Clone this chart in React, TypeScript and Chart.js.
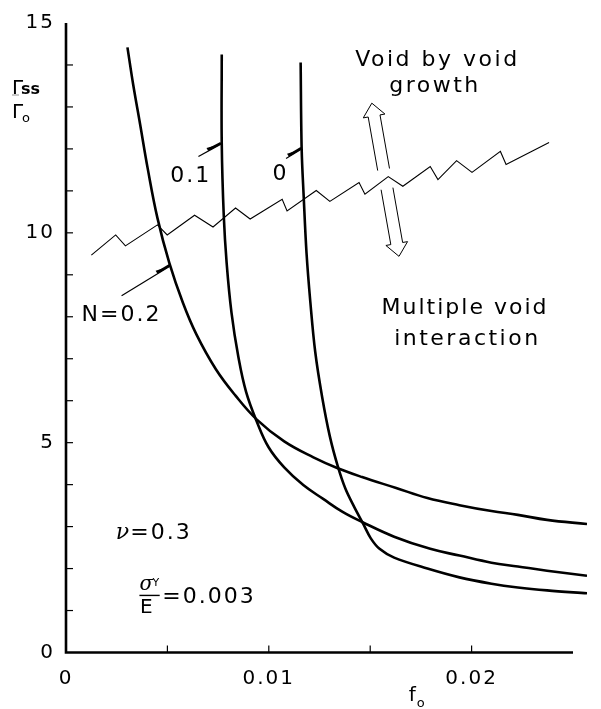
import React, { useEffect, useRef } from "react";
import { Chart, registerables } from "chart.js";
Chart.register(...registerables);

// ---- tick labels ----
const xTickValues = [0, 0.01, 0.02];
const xTickLabels = ["0", "0.01", "0.02"];
const yTickValues = [0, 5, 10, 15];
const yTickLabels = ["0", "5", "10", "15"];

// ---- curve N = 0.2 ----
const fN02 = [0.00303, 0.00331, 0.00365, 0.00403, 0.00451, 0.00509, 0.00576, 0.00643, 0.00739, 0.00836, 0.00941, 0.01076, 0.0122, 0.0134, 0.0146, 0.01628, 0.01782, 0.0194, 0.02098, 0.02228, 0.02372, 0.02569];
const gN02 = [14.42, 13.54, 12.6, 11.53, 10.35, 9.29, 8.34, 7.58, 6.75, 6.12, 5.55, 5.03, 4.65, 4.39, 4.18, 3.92, 3.68, 3.51, 3.37, 3.28, 3.16, 3.06];

// ---- curve N = 0.1 ----
const fN01 = [0.00768, 0.00768, 0.00778, 0.00792, 0.00816, 0.0085, 0.00888, 0.00941, 0.00999, 0.01076, 0.0117, 0.01268, 0.01364, 0.0146, 0.01618, 0.01796, 0.0194, 0.02098, 0.02228, 0.02372, 0.02569];
const gN01 = [14.25, 12.12, 10.4, 9.29, 8.1, 7.04, 6.21, 5.5, 4.89, 4.41, 3.99, 3.66, 3.35, 3.11, 2.76, 2.47, 2.31, 2.14, 2.05, 1.95, 1.83];

// ---- curve N = 0 ----
const fN0 = [0.01157, 0.01162, 0.01172, 0.01186, 0.01205, 0.01229, 0.01263, 0.01301, 0.0134, 0.01378, 0.01421, 0.01465, 0.01503, 0.01546, 0.01618, 0.01782, 0.0194, 0.02098, 0.02228, 0.02372, 0.02569];
const gN0 = [14.06, 12.0, 10.87, 9.52, 8.34, 7.16, 6.09, 5.15, 4.44, 3.9, 3.47, 3.07, 2.72, 2.47, 2.26, 2.0, 1.79, 1.64, 1.55, 1.48, 1.41];

// ---- transition (zig-zag) line ----
const fZig = [0.00125, 0.00245, 0.00293, 0.00451, 0.00499, 0.00634, 0.00725, 0.00836, 0.00908, 0.01066, 0.0109, 0.01234, 0.01301, 0.01445, 0.01474, 0.01589, 0.01661, 0.01796, 0.01834, 0.01926, 0.02002, 0.02142, 0.0217, 0.02382];
const gZig = [9.47, 9.95, 9.69, 10.19, 9.95, 10.42, 10.14, 10.59, 10.33, 10.8, 10.52, 11.01, 10.75, 11.2, 10.92, 11.34, 11.11, 11.58, 11.27, 11.72, 11.44, 11.94, 11.63, 12.15];

const toPts = (xs: number[], ys: number[]) => xs.map((v, i) => ({ x: v, y: ys[i] }));

const FONT = "DejaVu Sans";

const annotPlugin = {
  id: "annot",
  beforeDraw(chart: any) {
    chart.ctx.letterSpacing = "2px";
  },
  afterDraw(chart: any) {
    const ctx: CanvasRenderingContext2D = chart.ctx;
    const xs = chart.scales.x;
    const ys = chart.scales.y;
    const px = (f: number) => xs.getPixelForValue(f);
    const py = (g: number) => ys.getPixelForValue(g);
    const area = chart.chartArea;
    ctx.save();
    ctx.strokeStyle = "#000";
    ctx.fillStyle = "#000";
    ctx.lineCap = "butt";
    const seg = (x1: number, y1: number, x2: number, y2: number) => {
      ctx.beginPath();
      ctx.moveTo(x1, y1);
      ctx.lineTo(x2, y2);
      ctx.stroke();
    };

    // axes
    ctx.lineWidth = 2.6;
    ctx.beginPath();
    ctx.moveTo(px(0), py(15));
    ctx.lineTo(px(0), py(0));
    ctx.lineTo(px(0.025), py(0));
    ctx.stroke();

    // inward ticks
    ctx.lineWidth = 1.2;
    ys.ticks.forEach((t: any) => {
      if (t.value > 0 && t.value < 15) seg(px(0), py(t.value), px(0) + 7, py(t.value));
    });
    xs.ticks.forEach((t: any) => {
      if (t.value > 0.001 && t.value < 0.0245) seg(px(t.value), py(0), px(t.value), py(0) - 7);
    });

    const text = (s: string, x: number, y: number, font: string, align: CanvasTextAlign = "left", spacing = "2px") => {
      ctx.font = font;
      ctx.textAlign = align;
      ctx.textBaseline = "alphabetic";
      (ctx as any).letterSpacing = spacing;
      ctx.fillText(s, x, y);
    };

    // region labels
    const f22 = `22px '${FONT}'`;
    text("Void by void", px(0.01426), py(13.97), f22, "left", "2.5px");
    text("growth", px(0.01594), py(13.36), f22, "left", "2.5px");
    text("Multiple void", px(0.01556), py(8.06), f22, "left", "2px");
    text("interaction", px(0.01618), py(7.32), f22, "left", "2.5px");

    // curve labels
    text("0.1", px(0.00514), py(11.22), f22);
    text("0", px(0.01018), py(11.27), f22);
    text("N=0.2", px(0.00077), py(7.91), f22);

    // pointer arrows with half heads
    const pointer = (f1: number, g1: number, f2: number, g2: number) => {
      const x1 = px(f1), y1 = py(g1), x2 = px(f2), y2 = py(g2);
      const dx = x2 - x1, dy = y2 - y1;
      const L = Math.hypot(dx, dy);
      const ux = dx / L, uy = dy / L;
      const nx = uy, ny = -ux;
      ctx.lineWidth = 1.2;
      seg(x1, y1, x2, y2);
      ctx.beginPath();
      ctx.moveTo(x2, y2);
      ctx.lineTo(x2 - ux * 15, y2 - uy * 15);
      ctx.lineTo(x2 - ux * 15 + nx * 3.5, y2 - uy * 15 + ny * 3.5);
      ctx.closePath();
      ctx.fill();
      ctx.lineWidth = 2.5;
      seg(x2 - ux * 13 + nx * 1.2, y2 - uy * 13 + ny * 1.2, x2 + nx * 1, y2 + ny * 1);
    };
    pointer(0.00653, 11.82, 0.00766, 12.12);
    pointer(0.01085, 11.77, 0.01162, 12.0);
    pointer(0.00274, 8.5, 0.00514, 9.21);

    // hollow double arrow
    {
      const x1 = px(0.01508), y1 = py(13.09), x2 = px(0.01642), y2 = py(9.44);
      const dx = x2 - x1, dy = y2 - y1;
      const L = Math.hypot(dx, dy);
      const ux = dx / L, uy = dy / L;
      const nx = -uy, ny = ux;
      const hw = 6, ww = 11, hl = 13;
      ctx.lineWidth = 1;
      const head = (tx: number, ty: number, s: number) => {
        ctx.beginPath();
        ctx.moveTo(tx + s * ux * hl + nx * hw, ty + s * uy * hl + ny * hw);
        ctx.lineTo(tx + s * ux * hl + nx * ww, ty + s * uy * hl + ny * ww);
        ctx.lineTo(tx, ty);
        ctx.lineTo(tx + s * ux * hl - nx * ww, ty + s * uy * hl - ny * ww);
        ctx.lineTo(tx + s * ux * hl - nx * hw, ty + s * uy * hl - ny * hw);
        ctx.stroke();
      };
      head(x1, y1, 1);
      head(x2, y2, -1);
      const g1 = 0.42, g2 = 0.57;
      for (const side of [-1, 1]) {
        const ox = nx * hw * side, oy = ny * hw * side;
        const sx = x1 + ux * hl + ox, sy = y1 + uy * hl + oy;
        const ex = x2 - ux * hl + ox, ey = y2 - uy * hl + oy;
        seg(sx, sy, sx + (ex - sx) * g1, sy + (ey - sy) * g1);
        seg(sx + (ex - sx) * g2, sy + (ey - sy) * g2, ex, ey);
      }
    }

    // nu and sigma/E
    text("\u03bd", px(0.00245), py(2.71), `italic 22px 'DejaVu Serif'`, "left", "0px");
    text("=0.3", px(0.00317), py(2.71), f22);
    text("\u03c3", px(0.00362), py(1.5), `italic 20px 'DejaVu Serif'`, "left", "0px");
    text("Y", px(0.00427), py(1.58), `11px '${FONT}'`, "left", "0px");
    ctx.lineWidth = 1.4;
    seg(px(0.00362), py(1.36), px(0.00462), py(1.36));
    text("E", px(0.00365), py(0.93), `20px '${FONT}'`, "left", "0px");
    text("=0.003", px(0.00475), py(1.17), f22);

    // y axis title  Γss / Γo
    const L0 = area.left;
    const T0 = area.top;
    text("\u0393", L0 - 54, T0 + 71, `20px '${FONT}'`, "left", "0px");
    text("ss", L0 - 45, T0 + 71, `bold 16px '${FONT}'`, "left", "0px");
    ctx.lineWidth = 0.8;
    ctx.strokeStyle = "#777";
    seg(L0 - 54, T0 + 72, L0 - 47, T0 + 72);
    ctx.strokeStyle = "#000";
    text("\u0393", L0 - 54, T0 + 95, `20px '${FONT}'`, "left", "0px");
    text("o", L0 - 44, T0 + 99, `13px '${FONT}'`, "left", "0px");

    // x axis title f_o
    text("f", px(0.0169), area.bottom + 48, `20px '${FONT}'`, "left", "0px");
    text("o", px(0.0169) + 8, area.bottom + 54, `13px '${FONT}'`, "left", "0px");

    ctx.restore();
  },
};

export default function App() {
  const ref = useRef<HTMLCanvasElement | null>(null);
  useEffect(() => {
    if (!ref.current) return;
    const lineDs = (data: any[], width: number, tension: number) => ({
      data,
      borderColor: "#000",
      borderWidth: width,
      pointRadius: 0,
      tension,
      fill: false,
    });
    const chart = new Chart(ref.current, {
      type: "line",
      data: {
        datasets: [
          lineDs(toPts(fN02, gN02), 2.6, 0.4),
          lineDs(toPts(fN01, gN01), 2.6, 0.4),
          lineDs(toPts(fN0, gN0), 2.6, 0.35),
          lineDs(toPts(fZig, gZig), 1.1, 0),
        ],
      },
      options: {
        responsive: false,
        animation: false,
        devicePixelRatio: 1,
        layout: { padding: { top: 18.5, left: 0, right: 0, bottom: 0 } },
        plugins: { legend: { display: false }, tooltip: { enabled: false } },
        scales: {
          x: {
            type: "linear",
            min: 0,
            max: 0.02569,
            afterFit: (s: any) => {
              s.height = 56.5;
            },
            grid: { display: false, drawTicks: false },
            border: { display: false },
            ticks: {
              stepSize: 0.005,
              autoSkip: false,
              maxRotation: 0,
              padding: 14,
              color: "#000",
              font: { family: FONT, size: 20 },
              callback: (v: any) => {
                const i = xTickValues.findIndex((t) => Math.abs(t - Number(v)) < 1e-9);
                return i >= 0 ? xTickLabels[i] : "";
              },
            },
          },
          y: {
            type: "linear",
            min: 0,
            max: 15,
            afterFit: (s: any) => {
              s.width = 66;
            },
            grid: { display: false, drawTicks: false },
            border: { display: false },
            ticks: {
              stepSize: 1,
              autoSkip: false,
              padding: 11,
              color: "#000",
              font: { family: FONT, size: 20 },
              callback: (v: any) => {
                const i = yTickValues.findIndex((t) => Math.abs(t - Number(v)) < 1e-9);
                return i >= 0 ? yTickLabels[i] : "";
              },
            },
          },
        },
      },
      plugins: [annotPlugin],
    } as any);
    return () => chart.destroy();
  }, []);
  return (
    <div style={{ position: "absolute", left: 0, top: 0, width: 601, height: 709, background: "#fff" }}>
      <canvas ref={ref} width={601} height={709} style={{ display: "block" }} />
    </div>
  );
}
